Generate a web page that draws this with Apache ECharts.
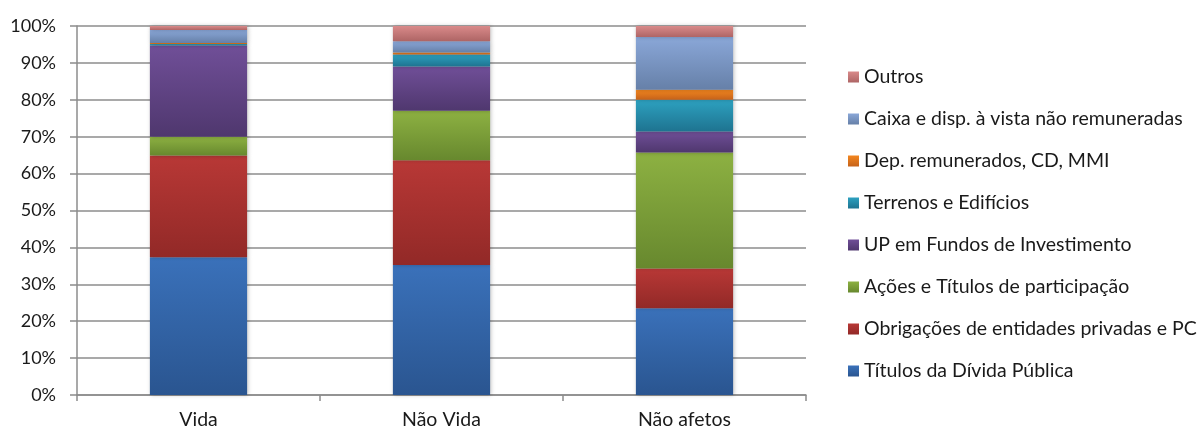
<!DOCTYPE html>
<html><head><meta charset="utf-8">
<script src="https://cdn.jsdelivr.net/npm/echarts@6/dist/echarts.min.js"></script>
<style>html,body{margin:0;padding:0;background:#fff}#c{width:1200px;height:430px}</style>
</head><body><div id="c"></div>
<script>
const categories = ['Vida', 'Não Vida', 'Não afetos'];
const seriesNames = ['Títulos da Dívida Pública', 'Obrigações de entidades privadas e PC', 'Ações e Títulos de participação', 'UP em Fundos de Investimento', 'Terrenos e Edifícios', 'Dep. remunerados, CD, MMI', 'Caixa e disp. à vista não remuneradas', 'Outros'];
const titulos = [37.3, 35.2, 23.5];
const obrigacoes = [27.6, 28.4, 10.8];
const acoes = [5.1, 13.4, 31.4];
const up = [24.7, 12.0, 5.7];
const terrenos = [0.4, 3.3, 8.6];
const depositos = [0.3, 0.5, 2.7];
const caixa = [3.5, 3.1, 14.3];
const outros = [1.1, 4.1, 3.0];
const yTicks = [0, 10, 20, 30, 40, 50, 60, 70, 80, 90, 100];

const values = [titulos, obrigacoes, acoes, up, terrenos, depositos, caixa, outros];
const colors = [
  ['#3a71ba', '#2a5590'],
  ['#b83836', '#922927'],
  ['#8db142', '#67882e'],
  ['#704f98', '#4f376e'],
  ['#2da1c0', '#1e7390'],
  ['#f3861f', '#c5621a'],
  ['#8aa7d8', '#6680a8'],
  ['#d98a8a', '#ae6565']
];
const chart = echarts.init(document.getElementById('c'));
const series = seriesNames.map((n, i) => ({
  name: n, type: 'bar', stack: 'a', barWidth: '40%',
  data: values[i],
  itemStyle: {
    color: new echarts.graphic.LinearGradient(0, 0, 0, 1, [
      {offset: 0, color: colors[i][0]}, {offset: 1, color: colors[i][1]}
    ]),
    shadowColor: 'rgba(0,0,0,0.25)', shadowBlur: 4, shadowOffsetX: 1
  },
  emphasis: {disabled: true}
}));
chart.setOption({
  animation: false,
  textStyle: {fontFamily: 'Lato'},
  grid: {left: 77, right: 394, top: 26, bottom: 34},
  legend: {
    orient: 'vertical', left: 848, top: 66, padding: 0,
    data: seriesNames.slice().reverse().map(n => ({name: n, icon: 'rect'})),
    itemWidth: 11, itemHeight: 11, itemGap: 20,
    textStyle: {fontSize: 19.5, color: '#1a1a1a', lineHeight: 22, fontFamily: 'Lato'}
  },
  xAxis: {
    type: 'category', data: categories,
    axisLine: {lineStyle: {color: '#8c8c8c', width: 1.5}},
    axisTick: {show: true, length: 6, lineStyle: {color: '#8c8c8c', width: 1.5}},
    axisLabel: {fontSize: 19.5, color: '#1a1a1a', margin: 15, fontFamily: 'Lato'}
  },
  yAxis: {
    type: 'value', min: yTicks[0], max: yTicks[yTicks.length - 1], interval: 10,
    axisLine: {show: true, lineStyle: {color: '#8c8c8c', width: 1.5}},
    axisTick: {show: true, length: 7, lineStyle: {color: '#8c8c8c', width: 1.5}},
    splitLine: {lineStyle: {color: '#8c8c8c', width: 1.5}},
    axisLabel: {fontSize: 18, color: '#1a1a1a', margin: 21, formatter: '{value}%', fontFamily: 'Lato'}
  },
  series: series
});
</script></body></html>
